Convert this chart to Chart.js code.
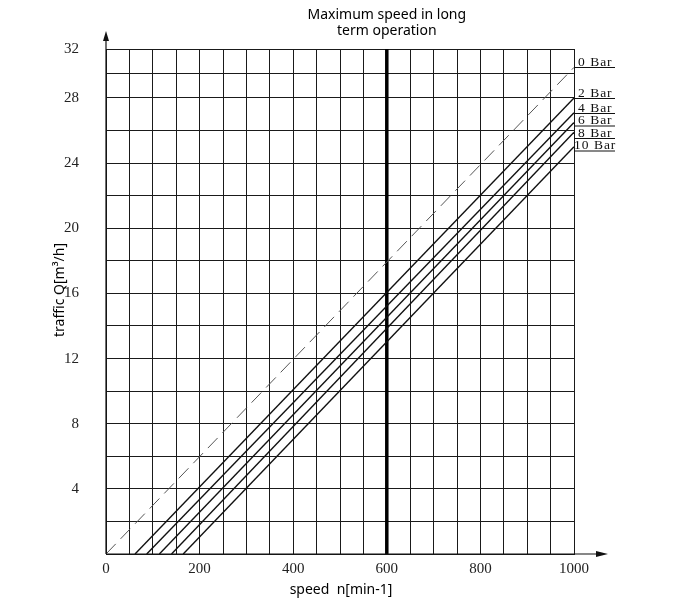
<!DOCTYPE html>
<html>
<head>
<meta charset="utf-8">
<script src="https://cdn.jsdelivr.net/npm/chart.js@4.4.1/dist/chart.umd.min.js"></script>
<style>
  html, body { margin: 0; padding: 0; background: #fff; }
</style>
</head>
<body>
<canvas id="myChart" width="700" height="600"></canvas>
<script>
// pressure curves: start at Q=0 on the speed axis, end at n=1000
const pressures = ['0 Bar', '2 Bar', '4 Bar', '6 Bar', '8 Bar', '10 Bar']
const startSpeed = [0, 62, 87, 114, 140, 165]
const endSpeed = 1000
const endFlow = [30.5, 28.0, 27.1, 26.5, 25.9, 25.0]
const maxSpeed = 600
const xTicks = [0, 200, 400, 600, 800, 1000]
const yTicks = [4, 8, 12, 16, 20, 24, 28, 32]

const serif = '"Liberation Serif", "DejaVu Serif", serif'
const sans = '"Noto Sans", "Open Sans", sans-serif'

// the drawing squeezes the 28..32 band, so the y axis is piecewise linear
const breakValue = 28
const breakShare = 0.903

class BrokenScale extends Chart.LinearScale {
    getPixelForValue(v) {
        if (v === null || v === undefined) return NaN
        const d = v <= breakValue
            ? v / breakValue * breakShare
            : breakShare + (v - breakValue) / (this.max - breakValue) * (1 - breakShare)
        return this.getPixelForDecimal(d)
    }
    getValueForPixel(p) {
        const d = this.getDecimalForPixel(p)
        return d <= breakShare
            ? d / breakShare * breakValue
            : breakValue + (d - breakShare) / (1 - breakShare) * (this.max - breakValue)
    }
}
BrokenScale.id = 'broken'
BrokenScale.defaults = Chart.LinearScale.defaults
Chart.register(BrokenScale)

const datasets = pressures.map((name, i) => ({
    label: name,
    data: [{ x: startSpeed[i], y: 0 }, { x: endSpeed, y: endFlow[i] }],
    borderColor: i === 0 ? '#555' : '#111',
    borderWidth: i === 0 ? 1 : 1.4,
    borderDash: i === 0 ? [14, 7] : [],
    pointRadius: 0,
    fill: false
}))
datasets.push({
    label: 'max',
    data: [{ x: maxSpeed, y: 0 }, { x: maxSpeed, y: 32 }],
    borderColor: '#000',
    borderWidth: 3.5,
    pointRadius: 0
})

const decorations = {
    id: 'decorations',
    afterDraw(chart) {
        const { ctx, chartArea, scales } = chart
        const x0 = chartArea.left, yb = chartArea.bottom
        ctx.save()
        ctx.fillStyle = '#111'
        ctx.strokeStyle = '#111'
        ctx.lineWidth = 1.2
        // axis arrows
        ctx.beginPath()
        ctx.moveTo(x0, yb); ctx.lineTo(x0, 38)
        ctx.moveTo(x0, yb); ctx.lineTo(600, yb)
        ctx.stroke()
        ctx.beginPath()
        ctx.moveTo(x0, 31); ctx.lineTo(x0 - 3, 41); ctx.lineTo(x0 + 3, 41); ctx.closePath()
        ctx.fill()
        ctx.beginPath()
        ctx.moveTo(608, yb); ctx.lineTo(596, yb - 3); ctx.lineTo(596, yb + 3); ctx.closePath()
        ctx.fill()

        // pressure labels, pushed apart so the text does not collide
        ctx.font = '13.5px ' + serif
        ctx.letterSpacing = '1px'
        ctx.textAlign = 'left'
        ctx.textBaseline = 'alphabetic'
        ctx.lineWidth = 1
        let prev = -Infinity
        pressures.forEach((name, i) => {
            let y = Math.round(scales.y.getPixelForValue(endFlow[i]))
            y = Math.max(y, prev + 12.5)
            prev = y
            ctx.beginPath()
            ctx.moveTo(chartArea.right, y + 0.5)
            ctx.lineTo(615, y + 0.5)
            ctx.stroke()
            ctx.fillText(name, name.length > 5 ? 574 : 578, y - 1.5)
        })
        ctx.letterSpacing = '0px'

        // titles
        ctx.fillStyle = '#000'
        ctx.font = '14px ' + sans
        ctx.textAlign = 'center'
        ctx.textBaseline = 'middle'
        const cx = scales.x.getPixelForValue(maxSpeed)
        ctx.fillText('Maximum speed in long', cx, 15)
        ctx.fillText('term operation', cx, 31)
        ctx.fillText('speed  n[min-1]', 341, 590)
        ctx.translate(60, 290)
        ctx.rotate(-Math.PI / 2)
        ctx.fillText('traffic Q[m\u00b3/h]', 0, 0)
        ctx.restore()
    }
}

new Chart(document.getElementById('myChart'), {
    type: 'line',
    data: { datasets },
    options: {
        responsive: false,
        animation: false,
        layout: { padding: { left: 0, right: 126, top: 49, bottom: 0 } },
        plugins: { legend: { display: false }, tooltip: { enabled: false } },
        scales: {
            x: {
                type: 'linear',
                min: 0,
                max: 1000,
                afterFit: s => { s.height = 46 },
                afterBuildTicks: s => {
                    s.ticks = []
                    for (let v = 0; v <= 1000; v += 50) s.ticks.push({ value: v })
                },
                ticks: {
                    autoSkip: false,
                    maxRotation: 0,
                    padding: 6,
                    color: '#222',
                    font: { family: serif, size: 15 },
                    callback: v => xTicks.includes(v) ? String(v) : ''
                },
                grid: { color: '#1a1a1a', lineWidth: 1, drawTicks: false },
                border: { display: true, color: '#1a1a1a', width: 1 }
            },
            y: {
                type: 'broken',
                min: 0,
                max: 32,
                afterFit: s => { s.width = 106 },
                afterBuildTicks: s => {
                    s.ticks = []
                    for (let v = 0; v <= 32; v += 2) s.ticks.push({ value: v })
                },
                ticks: {
                    autoSkip: false,
                    padding: 27,
                    color: '#222',
                    font: { family: serif, size: 15 },
                    callback: v => yTicks.includes(v) ? String(v) : ''
                },
                grid: { color: '#1a1a1a', lineWidth: 1, drawTicks: false },
                border: { display: true, color: '#1a1a1a', width: 1 }
            }
        }
    },
    plugins: [decorations]
})
</script>
</body>
</html>
